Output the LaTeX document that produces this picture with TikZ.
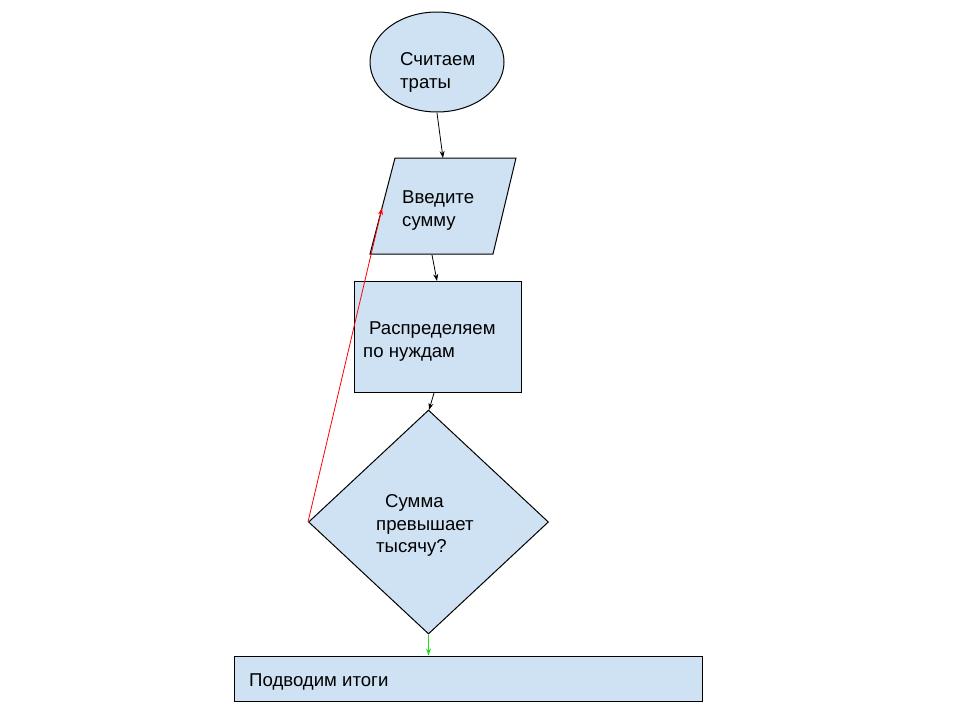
\documentclass[tikz,border=0pt]{standalone}
\usepackage{fontspec}
\setmainfont{Liberation Sans}
\usetikzlibrary{shapes.geometric,arrows.meta}
\definecolor{boxfill}{HTML}{CFE2F3}
\definecolor{arrgreen}{HTML}{22DD22}
\tikzset{
  shapebox/.style={draw=black, fill=boxfill, line width=1pt},
  txt/.style={anchor=west, align=left, inner sep=0pt, font=\fontsize{18.6}{22.8}\selectfont},
  conn/.style={line width=0.8pt, -{Stealth[length=7pt,width=5pt]}},
}
\begin{document}
\begin{tikzpicture}[x=1pt,y=-1pt]
\useasboundingbox (0,0) rectangle (960,720);
% start ellipse
\node[shapebox, ellipse, minimum width=134pt, minimum height=100pt, inner sep=0pt] (start) at (437,62) {};
\node[txt] (t1) at (400,72.5) {Считаем\\траты};
% parallelogram
\coordinate (ptl) at (395,158);
\coordinate (ptr) at (516,158);
\coordinate (pbr) at (493,254);
\coordinate (pbl) at (370,254);
\draw[shapebox] (ptl) -- (ptr) -- (pbr) -- (pbl) -- cycle;
\node[txt] (t2) at (402,210.5) {Введите\\сумму};
% rectangle
\node[shapebox, rectangle, minimum width=167pt, minimum height=111pt, inner sep=0pt] (proc) at (437.5,336.5) {};
\node[txt] (t3) at (363,341.5) {\hspace*{6pt}Распределяем\\по нуждам};
% diamond
\node[shapebox, diamond, minimum width=240pt, minimum height=224pt, shape aspect=1.07, inner sep=0pt] (dec) at (428.5,522) {};
\node[txt] (t4) at (376,525.5) {\hspace*{9pt}Сумма\\превышает\\тысячу?};
% end rectangle
\node[shapebox, rectangle, minimum width=468pt, minimum height=45pt, inner sep=0pt] (fin) at (468,678.5) {};
\node[txt] (t5) at (249,681.5) {Подводим итоги};
% connectors
\coordinate (a1s) at (437,113);
\coordinate (a1e) at (443,158);
\draw[conn] (a1s) -- (a1e);
\coordinate (a2s) at (432,255);
\coordinate (a2e) at (437,281);
\draw[conn] (a2s) -- (a2e);
\coordinate (a3s) at (434,393);
\coordinate (a3e) at (429,410);
\draw[conn] (a3s) -- (a3e);
\coordinate (a4e) at (382,208);
\draw[conn, red] (dec.west) -- (a4e);
\draw[conn, arrgreen] (dec.south) -- (fin.north -| dec.south);
\end{tikzpicture}
\end{document}
